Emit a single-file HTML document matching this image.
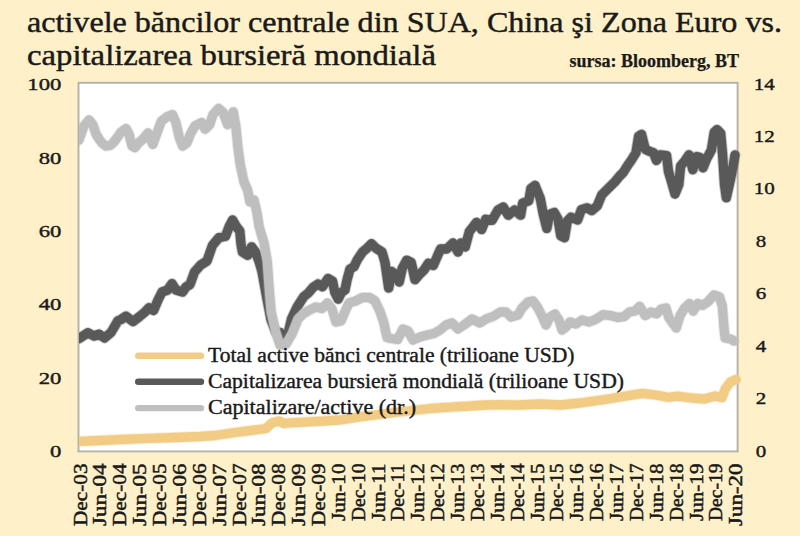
<!DOCTYPE html>
<html><head><meta charset="utf-8"><style>
html,body{margin:0;padding:0;background:#FEF0C8;}
body{width:800px;height:536px;overflow:hidden;position:relative;}
svg{position:absolute;left:0;top:0;}
text{font-family:"Liberation Serif",serif;fill:#1a1a1a;}
</style></head><body>
<svg width="800" height="536" viewBox="0 0 800 536">
<defs><clipPath id="c"><rect x="79" y="60" width="670" height="400"/></clipPath></defs>
<rect x="78.5" y="82.8" width="659.1" height="368.6" fill="#fff" stroke="#B2B2AA" stroke-width="1.9"/>
<g clip-path="url(#c)" fill="none" stroke-linejoin="round" stroke-linecap="round" stroke-width="9.3">
<polyline points="79,441.3 100,440.5 123,439.4 150,438.3 175,437.5 200,436.5 215,435.5 225,434 235,432.5 250,430.6 266,428.5 272,423 279,421 284,423.5 290,422.8 310,421.8 340,420 360,416.8 375,415 395,412.5 417,410 430,408.5 450,407.2 470,406 485,405 500,404.7 520,405 540,404 560,405 580,403 590,401.6 605,399.5 620,397 630,395.3 642.5,393.4 655.7,395 668,397.3 678,396.2 691,398 704.4,399 715,396 722,397.5 725.5,388.5 730.5,382 736,379.5" stroke="#F2CC84" stroke-width="11.100000000000001" stroke-opacity="0.35"/>
<polyline points="79,441.3 100,440.5 123,439.4 150,438.3 175,437.5 200,436.5 215,435.5 225,434 235,432.5 250,430.6 266,428.5 272,423 279,421 284,423.5 290,422.8 310,421.8 340,420 360,416.8 375,415 395,412.5 417,410 430,408.5 450,407.2 470,406 485,405 500,404.7 520,405 540,404 560,405 580,403 590,401.6 605,399.5 620,397 630,395.3 642.5,393.4 655.7,395 668,397.3 678,396.2 691,398 704.4,399 715,396 722,397.5 725.5,388.5 730.5,382 736,379.5" stroke="#F2CC84"/>
<polyline points="79,338.5 88,332.8 94,336 99,334.2 104.5,338 111,332.5 118,320.7 121,319.5 126,316.2 133,321.5 139.6,316.5 145,312 149,307.8 153.6,310.5 158,300 162,292 167.6,290 172,283.6 176,290 182.5,292 186,287 190,284.5 194.5,272 200.7,265 207,261 212.4,245.5 219,237.6 225.5,236.3 229.4,226 232.6,220 236.6,227 239.8,231 241,244 242.4,252 247.7,255.3 251.6,246.8 255.5,252 259.4,262.4 262,271.6 267,298.8 271,319.7 276,332.7 280,332.5 284,344 288.7,331 291.5,319 297.1,307 303.7,296.7 308.3,293 313,287.4 318,284 322.5,286.8 328,278.5 332.6,281.3 334.8,292.4 338.2,299 341.5,292.4 345,290 347,280 350,269 354,266.7 357.2,260 362.5,252 367,248.2 371.5,243.7 376,248.2 382,252 385,262.5 387.2,277.5 388.7,288 391.7,271.5 396.2,274.5 399.2,282 402.2,268.5 406.7,260.2 411.2,262.5 415,279.7 419.4,274.5 424,270 428.4,263.2 433.3,265.5 440.5,249 446.7,249 452.9,243 458,252 461,243 465.2,247 469.3,231.6 476.5,222.4 481.6,229.5 485.7,219.3 492,220.3 498,210 503.2,207 508.3,215.2 514.5,210 520.6,215.2 522.7,203 528.8,200.8 530.9,188.5 535,185.4 540.3,198.5 543.1,213.4 546.8,228.4 549.6,214.4 554.3,212.5 558,219 560.8,235.8 564.5,237.7 567.3,221 571,217.2 577.6,220 581.3,209.7 587,207.8 591.6,210.6 597.2,206 601.8,194.8 608.4,188.2 615,181.7 619.6,176.1 623.3,172.4 628,164.9 631.2,160.4 635.9,152.9 638.7,136.1 641.5,134.3 645.2,149.2 648.9,151 653.6,152.9 656.4,160.4 660.1,154.8 666.6,155.7 668.5,171.6 671.3,181 675,194 678.8,184.6 680.6,166 685.3,160.4 689,154.8 692.8,169.7 696.5,156.6 700.2,157.6 703,167.8 706.8,158.5 711.4,150 714.2,132.4 717,129.6 720.7,133.3 722.6,154.8 724.5,184.6 726.3,197.7 730.1,181 733.8,162.2 735,155" stroke="#595959" stroke-width="11.100000000000001" stroke-opacity="0.35"/>
<polyline points="79,338.5 88,332.8 94,336 99,334.2 104.5,338 111,332.5 118,320.7 121,319.5 126,316.2 133,321.5 139.6,316.5 145,312 149,307.8 153.6,310.5 158,300 162,292 167.6,290 172,283.6 176,290 182.5,292 186,287 190,284.5 194.5,272 200.7,265 207,261 212.4,245.5 219,237.6 225.5,236.3 229.4,226 232.6,220 236.6,227 239.8,231 241,244 242.4,252 247.7,255.3 251.6,246.8 255.5,252 259.4,262.4 262,271.6 267,298.8 271,319.7 276,332.7 280,332.5 284,344 288.7,331 291.5,319 297.1,307 303.7,296.7 308.3,293 313,287.4 318,284 322.5,286.8 328,278.5 332.6,281.3 334.8,292.4 338.2,299 341.5,292.4 345,290 347,280 350,269 354,266.7 357.2,260 362.5,252 367,248.2 371.5,243.7 376,248.2 382,252 385,262.5 387.2,277.5 388.7,288 391.7,271.5 396.2,274.5 399.2,282 402.2,268.5 406.7,260.2 411.2,262.5 415,279.7 419.4,274.5 424,270 428.4,263.2 433.3,265.5 440.5,249 446.7,249 452.9,243 458,252 461,243 465.2,247 469.3,231.6 476.5,222.4 481.6,229.5 485.7,219.3 492,220.3 498,210 503.2,207 508.3,215.2 514.5,210 520.6,215.2 522.7,203 528.8,200.8 530.9,188.5 535,185.4 540.3,198.5 543.1,213.4 546.8,228.4 549.6,214.4 554.3,212.5 558,219 560.8,235.8 564.5,237.7 567.3,221 571,217.2 577.6,220 581.3,209.7 587,207.8 591.6,210.6 597.2,206 601.8,194.8 608.4,188.2 615,181.7 619.6,176.1 623.3,172.4 628,164.9 631.2,160.4 635.9,152.9 638.7,136.1 641.5,134.3 645.2,149.2 648.9,151 653.6,152.9 656.4,160.4 660.1,154.8 666.6,155.7 668.5,171.6 671.3,181 675,194 678.8,184.6 680.6,166 685.3,160.4 689,154.8 692.8,169.7 696.5,156.6 700.2,157.6 703,167.8 706.8,158.5 711.4,150 714.2,132.4 717,129.6 720.7,133.3 722.6,154.8 724.5,184.6 726.3,197.7 730.1,181 733.8,162.2 735,155" stroke="#595959"/>
<polyline points="79,140 84,126 89,120 93,125 96,134 99,139 102,143 106,146 110,145.5 113,143 117,138 121,132 126,128.5 129,134 132,146 135,147.5 138,143.5 143,139 148,133 152.8,144.4 156.7,133.7 161.2,121.4 166.9,116.9 172.5,114.6 175.9,122.5 179.2,137.1 182.6,146.1 187.1,142.7 190.5,133.7 195,125.9 201.7,122.5 205.1,129.2 209.6,124.7 213,114.6 218.6,108.4 223.1,112.4 227.6,124.7 231,116.9 233.2,111.8 235.8,126 238,148 240.3,165 244,182 247.6,190 250,202 254,200 257,213 259,226 261.5,235 264,243 267.2,261 269.7,295 271.2,312 276,333 280,345 286,344 292,334 298,319 303,314 308.3,310.7 315.8,307 322,308.5 327.5,303 332,309 336,322 341,321 345,311.5 349,303 355.5,301 362.5,297.5 369.5,297.5 375,301 380,311.5 383.6,322 387,337.5 391,338.5 397.6,339.5 403,329 408,331 413,340 420,337 427,335 434,333.5 440,330 446,325 452,323 458,329 464,325 472,319 480,323 486,319 494,316 500,312 506,312 511,317 518,315 522,308 528,302 533,301 538,308 542,316 546,325 550,317 555,314 559,320 562,330 566,327 570,322 576,324 582,320 589,322 595.6,319.4 603,314.7 610.6,315.6 618,317.5 624,316.6 629.4,312 635,311 639.7,306.3 645.3,315.6 651,312 656.6,313.8 661.3,309 666,308 668.8,317.5 672.5,323 676.3,328 680,315.6 684.7,308 689.4,303.5 693.2,311 697.9,303.5 702.6,305.3 708.2,301.6 713.8,295 719.5,297 722.3,306 724.1,329 725.1,338 730.7,339 734,341" stroke="#BFBFBF" stroke-width="11.100000000000001" stroke-opacity="0.35"/>
<polyline points="79,140 84,126 89,120 93,125 96,134 99,139 102,143 106,146 110,145.5 113,143 117,138 121,132 126,128.5 129,134 132,146 135,147.5 138,143.5 143,139 148,133 152.8,144.4 156.7,133.7 161.2,121.4 166.9,116.9 172.5,114.6 175.9,122.5 179.2,137.1 182.6,146.1 187.1,142.7 190.5,133.7 195,125.9 201.7,122.5 205.1,129.2 209.6,124.7 213,114.6 218.6,108.4 223.1,112.4 227.6,124.7 231,116.9 233.2,111.8 235.8,126 238,148 240.3,165 244,182 247.6,190 250,202 254,200 257,213 259,226 261.5,235 264,243 267.2,261 269.7,295 271.2,312 276,333 280,345 286,344 292,334 298,319 303,314 308.3,310.7 315.8,307 322,308.5 327.5,303 332,309 336,322 341,321 345,311.5 349,303 355.5,301 362.5,297.5 369.5,297.5 375,301 380,311.5 383.6,322 387,337.5 391,338.5 397.6,339.5 403,329 408,331 413,340 420,337 427,335 434,333.5 440,330 446,325 452,323 458,329 464,325 472,319 480,323 486,319 494,316 500,312 506,312 511,317 518,315 522,308 528,302 533,301 538,308 542,316 546,325 550,317 555,314 559,320 562,330 566,327 570,322 576,324 582,320 589,322 595.6,319.4 603,314.7 610.6,315.6 618,317.5 624,316.6 629.4,312 635,311 639.7,306.3 645.3,315.6 651,312 656.6,313.8 661.3,309 666,308 668.8,317.5 672.5,323 676.3,328 680,315.6 684.7,308 689.4,303.5 693.2,311 697.9,303.5 702.6,305.3 708.2,301.6 713.8,295 719.5,297 722.3,306 724.1,329 725.1,338 730.7,339 734,341" stroke="#BFBFBF"/>
</g>
<g stroke-linecap="round" stroke-width="6.4">
<line x1="138.2" y1="355.7" x2="201" y2="355.7" stroke="#F2CC84"/>
<line x1="138.2" y1="381.8" x2="201" y2="381.8" stroke="#595959"/>
<line x1="138.2" y1="408.1" x2="201" y2="408.1" stroke="#BFBFBF"/>
</g>
<g font-size="20.5" stroke="#1a1a1a" stroke-width="0.4">
<text x="208" y="362" textLength="366.5" lengthAdjust="spacingAndGlyphs">Total active bănci centrale (trilioane USD)</text>
<text x="208" y="388" textLength="416" lengthAdjust="spacingAndGlyphs">Capitalizarea bursieră mondială (trilioane USD)</text>
<text x="208" y="414" textLength="208" lengthAdjust="spacingAndGlyphs">Capitalizare/active (dr.)</text>
</g>
<g font-size="21" stroke="#1a1a1a" stroke-width="0.5">
<text transform="translate(61.3,457.3) scale(1.08,0.82)" text-anchor="end">0</text><text transform="translate(61.3,383.9) scale(1.08,0.82)" text-anchor="end">20</text><text transform="translate(61.3,310.4) scale(1.08,0.82)" text-anchor="end">40</text><text transform="translate(61.3,237.0) scale(1.08,0.82)" text-anchor="end">60</text><text transform="translate(61.3,163.5) scale(1.08,0.82)" text-anchor="end">80</text><text transform="translate(61.3,90.1) scale(1.08,0.82)" text-anchor="end">100</text>
<text transform="translate(755.8,456.7) scale(1.0,0.82)">0</text><text transform="translate(755.8,404.2) scale(1.0,0.82)">2</text><text transform="translate(755.8,351.8) scale(1.0,0.82)">4</text><text transform="translate(755.8,299.3) scale(1.0,0.82)">6</text><text transform="translate(755.8,246.9) scale(1.0,0.82)">8</text><text transform="translate(753.8,194.4) scale(1.0,0.82)">10</text><text transform="translate(753.8,141.9) scale(1.0,0.82)">12</text><text transform="translate(753.8,89.5) scale(1.0,0.82)">14</text>
</g>
<g font-size="19.5" stroke="#1a1a1a" stroke-width="0.5">
<text transform="translate(86.5,463.5) rotate(-90)" text-anchor="end" textLength="62.5" lengthAdjust="spacingAndGlyphs">Dec-03</text><text transform="translate(106.4,463.5) rotate(-90)" text-anchor="end" textLength="62.5" lengthAdjust="spacingAndGlyphs">Jun-04</text><text transform="translate(126.2,463.5) rotate(-90)" text-anchor="end" textLength="62.5" lengthAdjust="spacingAndGlyphs">Dec-04</text><text transform="translate(146.1,463.5) rotate(-90)" text-anchor="end" textLength="62.5" lengthAdjust="spacingAndGlyphs">Jun-05</text><text transform="translate(166.0,463.5) rotate(-90)" text-anchor="end" textLength="62.5" lengthAdjust="spacingAndGlyphs">Dec-05</text><text transform="translate(185.9,463.5) rotate(-90)" text-anchor="end" textLength="62.5" lengthAdjust="spacingAndGlyphs">Jun-06</text><text transform="translate(205.7,463.5) rotate(-90)" text-anchor="end" textLength="62.5" lengthAdjust="spacingAndGlyphs">Dec-06</text><text transform="translate(225.6,463.5) rotate(-90)" text-anchor="end" textLength="62.5" lengthAdjust="spacingAndGlyphs">Jun-07</text><text transform="translate(245.5,463.5) rotate(-90)" text-anchor="end" textLength="62.5" lengthAdjust="spacingAndGlyphs">Dec-07</text><text transform="translate(265.3,463.5) rotate(-90)" text-anchor="end" textLength="62.5" lengthAdjust="spacingAndGlyphs">Jun-08</text><text transform="translate(285.2,463.5) rotate(-90)" text-anchor="end" textLength="62.5" lengthAdjust="spacingAndGlyphs">Dec-08</text><text transform="translate(305.1,463.5) rotate(-90)" text-anchor="end" textLength="62.5" lengthAdjust="spacingAndGlyphs">Jun-09</text><text transform="translate(324.9,463.5) rotate(-90)" text-anchor="end" textLength="62.5" lengthAdjust="spacingAndGlyphs">Dec-09</text><text transform="translate(344.8,463.5) rotate(-90)" text-anchor="end" textLength="57.5" lengthAdjust="spacingAndGlyphs">Jun-10</text><text transform="translate(364.7,463.5) rotate(-90)" text-anchor="end" textLength="57.5" lengthAdjust="spacingAndGlyphs">Dec-10</text><text transform="translate(384.6,463.5) rotate(-90)" text-anchor="end" textLength="57.5" lengthAdjust="spacingAndGlyphs">Jun-11</text><text transform="translate(404.4,463.5) rotate(-90)" text-anchor="end" textLength="57.5" lengthAdjust="spacingAndGlyphs">Dec-11</text><text transform="translate(424.3,463.5) rotate(-90)" text-anchor="end" textLength="57.5" lengthAdjust="spacingAndGlyphs">Jun-12</text><text transform="translate(444.2,463.5) rotate(-90)" text-anchor="end" textLength="57.5" lengthAdjust="spacingAndGlyphs">Dec-12</text><text transform="translate(464.0,463.5) rotate(-90)" text-anchor="end" textLength="57.5" lengthAdjust="spacingAndGlyphs">Jun-13</text><text transform="translate(483.9,463.5) rotate(-90)" text-anchor="end" textLength="57.5" lengthAdjust="spacingAndGlyphs">Dec-13</text><text transform="translate(503.8,463.5) rotate(-90)" text-anchor="end" textLength="57.5" lengthAdjust="spacingAndGlyphs">Jun-14</text><text transform="translate(523.6,463.5) rotate(-90)" text-anchor="end" textLength="57.5" lengthAdjust="spacingAndGlyphs">Dec-14</text><text transform="translate(543.5,463.5) rotate(-90)" text-anchor="end" textLength="57.5" lengthAdjust="spacingAndGlyphs">Jun-15</text><text transform="translate(563.4,463.5) rotate(-90)" text-anchor="end" textLength="57.5" lengthAdjust="spacingAndGlyphs">Dec-15</text><text transform="translate(583.2,463.5) rotate(-90)" text-anchor="end" textLength="57.5" lengthAdjust="spacingAndGlyphs">Jun-16</text><text transform="translate(603.1,463.5) rotate(-90)" text-anchor="end" textLength="57.5" lengthAdjust="spacingAndGlyphs">Dec-16</text><text transform="translate(623.0,463.5) rotate(-90)" text-anchor="end" textLength="57.5" lengthAdjust="spacingAndGlyphs">Jun-17</text><text transform="translate(642.9,463.5) rotate(-90)" text-anchor="end" textLength="57.5" lengthAdjust="spacingAndGlyphs">Dec-17</text><text transform="translate(662.7,463.5) rotate(-90)" text-anchor="end" textLength="57.5" lengthAdjust="spacingAndGlyphs">Jun-18</text><text transform="translate(682.6,463.5) rotate(-90)" text-anchor="end" textLength="57.5" lengthAdjust="spacingAndGlyphs">Dec-18</text><text transform="translate(702.5,463.5) rotate(-90)" text-anchor="end" textLength="57.5" lengthAdjust="spacingAndGlyphs">Jun-19</text><text transform="translate(722.3,463.5) rotate(-90)" text-anchor="end" textLength="57.5" lengthAdjust="spacingAndGlyphs">Dec-19</text><text transform="translate(742.2,463.5) rotate(-90)" text-anchor="end" textLength="62.5" lengthAdjust="spacingAndGlyphs">Jun-20</text>
</g>
<g font-size="30" stroke="#1a1a1a" stroke-width="0.45">
<text x="27" y="32.3" textLength="755" lengthAdjust="spacingAndGlyphs">activele băncilor centrale din SUA, China şi Zona Euro vs.</text>
<text x="27" y="65" textLength="409" lengthAdjust="spacingAndGlyphs">capitalizarea bursieră mondială</text>
</g>
<text x="569.5" y="66.8" font-size="18" font-weight="bold" stroke="#1a1a1a" stroke-width="0.25" textLength="169.5" lengthAdjust="spacingAndGlyphs">sursa: Bloomberg, BT</text>
</svg>
</body></html>
